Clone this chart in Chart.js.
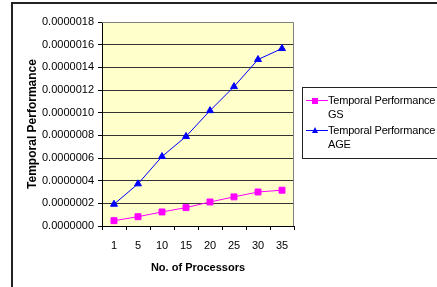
<!DOCTYPE html>
<html>
<head>
<meta charset="utf-8">
<script src="https://cdn.jsdelivr.net/npm/chart.js@4/dist/chart.umd.min.js"></script>
<style>
  html, body { margin:0; padding:0; background:#fff; overflow:hidden; }
  #wrap { position:relative; width:437px; height:287px; }
  #frame { position:absolute; left:11px; top:2px; width:500px; height:400px; border:2px solid #222; box-sizing:border-box; }
  canvas { position:absolute; left:0; top:0; }
  #legend { position:absolute; left:302px; top:87px; width:150px; height:72px; border:1px solid #222; box-sizing:border-box; font-family:"Liberation Sans", Arial, sans-serif; font-size:11px; color:#000; letter-spacing:-0.2px; }
  .item { position:absolute; left:0; width:150px; }
  .txt { position:absolute; left:25px; line-height:14px; white-space:nowrap; }
  .ln { position:absolute; left:3px; width:22px; height:1px; }
  .sq { position:absolute; width:6px; height:6px; }
  .tri { position:absolute; width:0; height:0; border-left:3.5px solid transparent; border-right:3.5px solid transparent; border-bottom:6px solid #0000ff; }
</style>
</head>
<body>
<div id="wrap">
  <div id="frame"></div>
  <canvas id="c" width="437" height="287"></canvas>
  <div id="legend"></div>
</div>
<script>
const categories = ['1', '5', '10', '15', '20', '25', '30', '35'];
const gsValues = [0.047e-6, 0.082e-6, 0.124e-6, 0.162e-6, 0.212e-6, 0.257e-6, 0.300e-6, 0.316e-6];
const ageValues = [0.192e-6, 0.372e-6, 0.613e-6, 0.790e-6, 1.018e-6, 1.230e-6, 1.469e-6, 1.566e-6];
const seriesNames = ['Temporal Performance GS', 'Temporal Performance AGE'];
const seriesLegendLines = [['Temporal Performance', 'GS'], ['Temporal Performance', 'AGE']];
const yTitle = 'Temporal Performance';
const xTitle = 'No. of Processors';
const yMin = 0, yMax = 1.8e-6, yStep = 2e-7;

const plotBg = {
  id: 'plotBg',
  beforeDraw(chart) {
    const {ctx, chartArea: a} = chart;
    ctx.save();
    ctx.fillStyle = '#FFFFCC';
    ctx.fillRect(a.left, a.top, a.right - a.left, a.bottom - a.top);
    ctx.restore();
  },
  afterDatasetsDraw(chart) {
    const {ctx, chartArea: a} = chart;
    ctx.save();
    ctx.strokeStyle = '#808080';
    ctx.lineWidth = 1;
    ctx.beginPath();
    ctx.moveTo(a.left, a.top + 0.5);
    ctx.lineTo(a.right - 0.5, a.top + 0.5);
    ctx.lineTo(a.right - 0.5, a.bottom);
    ctx.stroke();
    ctx.restore();
  }
};

Chart.defaults.font.family = '"Liberation Sans", Arial, sans-serif';
Chart.defaults.font.size = 11;
Chart.defaults.color = '#000';

new Chart(document.getElementById('c'), {
  type: 'line',
  data: {
    labels: categories,
    datasets: [
      { label: seriesNames[0], data: gsValues, borderColor: '#FF00FF', backgroundColor: '#FF00FF',
        borderWidth: 1, pointStyle: 'rect', pointRadius: 4.2, pointHoverRadius: 4.2, tension: 0 },
      { label: seriesNames[1], data: ageValues, borderColor: '#0000FF', backgroundColor: '#0000FF',
        borderWidth: 1, pointStyle: 'triangle', pointRadius: 4, pointHoverRadius: 4, tension: 0 }
    ]
  },
  options: {
    responsive: false,
    animation: false,
    events: [],
    layout: { padding: { left: 12, top: 22, right: 143, bottom: 12 } },
    plugins: { legend: { display: false }, tooltip: { enabled: false } },
    scales: {
      x: {
        offset: true,
        grid: { offset: true, drawOnChartArea: false, drawTicks: true, tickLength: 4, tickColor: '#000' },
        border: { color: '#000', width: 1 },
        ticks: { padding: 9, maxRotation: 0, autoSkip: false, font: { size: 11 } },
        title: { display: true, text: xTitle, font: { size: 11, weight: 'bold' }, padding: { top: 0, bottom: 0 } },
        afterFit(s) { s.height = 49; }
      },
      y: {
        min: yMin, max: yMax,
        grid: { color: (c) => (c.tick && Math.abs(c.tick.value - yMax) < 1e-12) ? 'rgba(0,0,0,0)' : '#333', tickLength: 4, tickColor: '#000', lineWidth: 1 },
        border: { color: '#000', width: 1 },
        ticks: { stepSize: yStep, padding: 4, font: { size: 11 }, callback: (v) => Number(v).toFixed(7) },
        title: { display: true, text: yTitle, font: { size: 12, weight: 'bold' }, padding: { top: 13, bottom: 0 } },
        afterFit(s) { s.width = 90; }
      }
    }
  },
  plugins: [plotBg]
});

// HTML legend (multi-line labels)
const legend = document.getElementById('legend');
const colors = ['#FF00FF', '#0000FF'];
seriesLegendLines.forEach((lines, i) => {
  const item = document.createElement('div');
  item.className = 'item';
  item.style.top = (i * 30 + 5) + 'px';
  const ln = document.createElement('div');
  ln.className = 'ln'; ln.style.background = colors[i]; ln.style.top = '7px';
  item.appendChild(ln);
  const mk = document.createElement('div');
  if (i === 0) { mk.className = 'sq'; mk.style.background = colors[i]; mk.style.left = '9px'; mk.style.top = '4.5px'; }
  else { mk.className = 'tri'; mk.style.left = '8.5px'; mk.style.top = '4px'; }
  item.appendChild(mk);
  const t = document.createElement('div');
  t.className = 'txt'; t.style.top = '0px';
  t.innerHTML = lines.join('<br>');
  item.appendChild(t);
  legend.appendChild(item);
});
</script>
</body>
</html>
